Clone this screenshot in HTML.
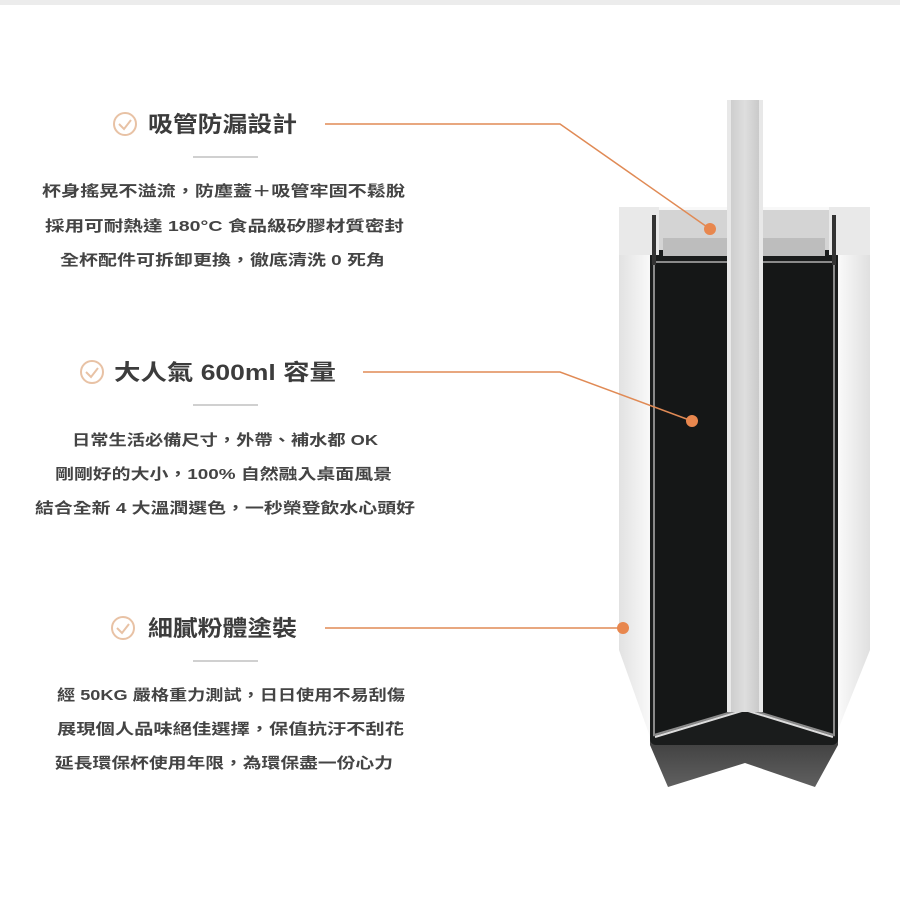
<!DOCTYPE html>
<html><head><meta charset="utf-8"><style>
html,body{margin:0;padding:0;background:#fff;width:900px;height:900px;overflow:hidden}
svg{display:block}
.h{font-family:"Liberation Sans","Noto Sans CJK TC",sans-serif;font-weight:bold;font-size:22px;fill:#3c3c3c}
.b{font-family:"Liberation Sans","Noto Sans CJK TC",sans-serif;font-weight:bold;font-size:15px;fill:#444}
</style></head><body>
<svg width="900" height="900" viewBox="0 0 900 900" xmlns="http://www.w3.org/2000/svg">
<defs>
<linearGradient id="body" x1="0" x2="1">
<stop offset="0" stop-color="#e2e2e2"/><stop offset="0.12" stop-color="#f8f8f8"/><stop offset="0.88" stop-color="#f8f8f8"/><stop offset="1" stop-color="#e0e0e0"/>
</linearGradient>
<linearGradient id="bot" x1="0" y1="0" x2="0" y2="1">
<stop offset="0" stop-color="#1e1e1e"/><stop offset="1" stop-color="#606060"/>
</linearGradient>
<linearGradient id="straw" x1="0" x2="1">
<stop offset="0" stop-color="#c9c9c9"/><stop offset="0.5" stop-color="#dedede"/><stop offset="1" stop-color="#c4c4c4"/>
</linearGradient>
</defs>
<rect x="0" y="0" width="900" height="5" fill="#ececec"/>

<!-- cup -->
<path d="M619,207 L870,207 L870,650 L815,787 L745,763 L668,787 L619,650 Z" fill="url(#body)"/>
<path d="M650,690 L650,745 L668,787 L745,763 L815,787 L838,745 L838,690 Z" fill="url(#bot)"/>
<rect x="650" y="250" width="188" height="495" rx="6" fill="#1a1c1c"/>
<path d="M654,262 L654,735 L745,708 L834,735 L834,262 Z" fill="#151717" stroke="#8a8a8a" stroke-width="2"/>
<path d="M655,737 L745,710 L833,737" fill="none" stroke="#ddd" stroke-width="2"/>
<!-- lid -->
<rect x="619" y="207" width="40" height="48" fill="#e9e9e9"/>
<rect x="829" y="207" width="41" height="48" fill="#e9e9e9"/>
<rect x="659" y="210" width="170" height="40" fill="#d4d4d4"/>
<rect x="663" y="238" width="162" height="18" fill="#bdbdbd"/>
<rect x="652" y="215" width="4" height="50" fill="#333"/>
<rect x="832" y="215" width="4" height="50" fill="#333"/>
<!-- straw -->
<rect x="727" y="100" width="36" height="612" fill="url(#straw)"/>
<rect x="727" y="100" width="4" height="612" fill="#e8e8e8"/>
<rect x="759" y="100" width="4" height="612" fill="#e8e8e8"/>

<!-- connectors -->
<g stroke="#e08a55" stroke-width="1.5" fill="none">
<polyline points="325,124 560,124 710,229"/>
<polyline points="363,372 560,372 692,421"/>
<line x1="325" y1="628" x2="622" y2="628"/>
</g>
<g fill="#e8874e">
<circle cx="710" cy="229" r="6"/>
<circle cx="692" cy="421" r="6"/>
<circle cx="623" cy="628" r="6"/>
</g>

<!-- icons -->
<g fill="none" stroke="#e8c2a5" stroke-width="2">
<circle cx="125" cy="124" r="11"/><polyline points="119,124 124,129 131,120"/>
<circle cx="92" cy="372" r="11"/><polyline points="86,372 91,377 98,368"/>
<circle cx="123" cy="628" r="11"/><polyline points="117,628 122,633 129,624"/>
</g>

<!-- headings -->
<text class="h" x="148" y="132" textLength="149" lengthAdjust="spacingAndGlyphs">吸管防漏設計</text>
<text class="h" x="114" y="380" textLength="222" lengthAdjust="spacingAndGlyphs">大人氣 600ml 容量</text>
<text class="h" x="148" y="636" textLength="149" lengthAdjust="spacingAndGlyphs">細膩粉體塗裝</text>

<g fill="#d0d0d0">
<rect x="193" y="156" width="65" height="2"/>
<rect x="193" y="404" width="65" height="2"/>
<rect x="193" y="660" width="65" height="2"/>
</g>

<text class="b" x="42" y="196" textLength="363" lengthAdjust="spacingAndGlyphs">杯身搖晃不溢流，防塵蓋＋吸管牢固不鬆脫</text>
<text class="b" x="45" y="231" textLength="359" lengthAdjust="spacingAndGlyphs">採用可耐熱達 180°C 食品級矽膠材質密封</text>
<text class="b" x="60" y="265" textLength="325" lengthAdjust="spacingAndGlyphs">全杯配件可拆卸更換，徹底清洗 0 死角</text>

<text class="b" x="72" y="445" textLength="306" lengthAdjust="spacingAndGlyphs">日常生活必備尺寸，外帶、補水都 OK</text>
<text class="b" x="55" y="479" textLength="337" lengthAdjust="spacingAndGlyphs">剛剛好的大小，100% 自然融入桌面風景</text>
<text class="b" x="35" y="513" textLength="380" lengthAdjust="spacingAndGlyphs">結合全新 4 大溫潤選色，一秒榮登飲水心頭好</text>

<text class="b" x="57" y="700" textLength="348" lengthAdjust="spacingAndGlyphs">經 50KG 嚴格重力測試，日日使用不易刮傷</text>
<text class="b" x="57" y="734" textLength="347" lengthAdjust="spacingAndGlyphs">展現個人品味絕佳選擇，保值抗汙不刮花</text>
<text class="b" x="55" y="768" textLength="338" lengthAdjust="spacingAndGlyphs">延長環保杯使用年限，為環保盡一份心力</text>
</svg>
</body></html>
